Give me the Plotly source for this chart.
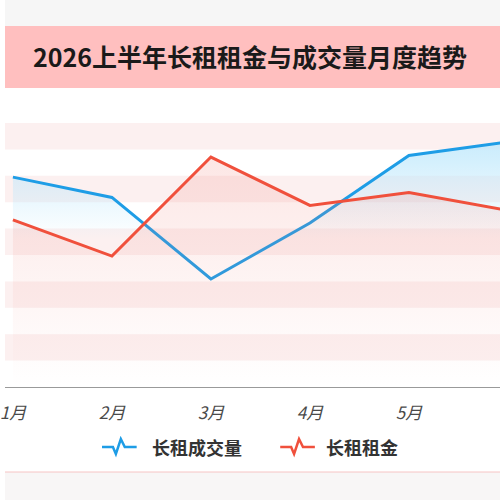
import plotly.graph_objects as go

months = ['1月', '2月', '3月', '4月', '5月', '6月']
volume = [7.95, 7.18, 4.09, 6.21, 8.77, 9.28]   # 长租成交量 (index)
rent = [6.33, 4.96, 8.71, 6.88, 7.37, 6.69]     # 长租租金 (index)
series_names = ['长租成交量', '长租租金']
title_text = '2026上半年长租租金与成交量月度趋势'

BLUE = '#1E9DE6'
RED = '#F0503C'
FONT = 'Noto Sans CJK SC'

fig = go.Figure()
fig.add_trace(go.Scatter(
    x=months, y=volume, mode='lines', name=series_names[0],
    line=dict(color=BLUE, width=3),
    fill='tozeroy',
    fillgradient=dict(type='vertical', start=5.6, stop=9.4,
                      colorscale=[[0, 'rgba(190,232,252,0)'], [1, 'rgba(190,232,252,0.85)']]),
    showlegend=False,
))
fig.add_trace(go.Scatter(
    x=months, y=rent, mode='lines', name=series_names[1],
    line=dict(color=RED, width=3),
    fill='tozeroy',
    fillgradient=dict(type='vertical', start=0.0, stop=8.8,
                      colorscale=[[0, 'rgba(240,120,110,0)'], [1, 'rgba(240,120,110,0.18)']]),
    showlegend=False,
))

H_PLOT = 264.0
def py(pix):
    return (387 - pix) / H_PLOT

shapes = []
# horizontal bands
for k in range(1, 10, 2):
    shapes.append(dict(type='rect', xref='paper', yref='y', x0=0, x1=1, y0=k, y1=k + 1,
                       fillcolor='rgba(250,225,225,0.5)', line=dict(width=0), layer='below'))
# top gray strip
shapes.append(dict(type='rect', xref='paper', yref='paper', x0=0, x1=1, y0=py(26), y1=py(0),
                   fillcolor='#f6f6f6', line=dict(width=0), layer='below'))
# title banner
shapes.append(dict(type='rect', xref='paper', yref='paper', x0=0, x1=1, y0=py(88), y1=py(26),
                   fillcolor='#FFBFBF', line=dict(width=0), layer='below'))
# bottom card edge
shapes.append(dict(type='rect', xref='paper', yref='paper', x0=0, x1=1, y0=py(500), y1=py(472),
                   fillcolor='#f8f6f6', line=dict(width=0), layer='below'))
shapes.append(dict(type='line', xref='paper', yref='paper', x0=0, x1=1, y0=py(472), y1=py(472),
                   line=dict(color='#f6c4c4', width=1)))

# legend zigzag icons
def zig(x0, color):
    pts = [(x0, 447), (x0 + 11, 447), (x0 + 14, 454), (x0 + 19, 439), (x0 + 23, 447), (x0 + 35, 447)]
    path = 'M ' + ' L '.join(f'{px / 500:.4f},{py(pp):.4f}' for px, pp in pts)
    return dict(type='path', xref='paper', yref='paper', path=path,
                line=dict(color=color, width=2.5))
shapes.append(zig(98, BLUE))
shapes.append(zig(278, RED))

annotations = [
    dict(text=series_names[0], xref='paper', yref='paper', x=146 / 500, y=py(447),
         xanchor='left', yanchor='middle', showarrow=False,
         font=dict(family=FONT, size=18, color='#333333', weight='bold')),
    dict(text=series_names[1], xref='paper', yref='paper', x=322 / 500, y=py(447),
         xanchor='left', yanchor='middle', showarrow=False,
         font=dict(family=FONT, size=18, color='#333333', weight='bold')),
]

fig.update_layout(
    width=500, height=500,
    margin=dict(l=0, r=0, t=123, b=113),
    paper_bgcolor='white', plot_bgcolor='rgba(0,0,0,0)',
    title=dict(text=title_text, x=0.5, xanchor='center', y=1 - 58 / 500, yanchor='middle',
               font=dict(family=FONT, size=25, color='#1a1a1a', weight='bold')),
    xaxis=dict(range=[-0.08, 4.92], showgrid=False, zeroline=False,
               showline=True, linecolor='#9a9a9a', linewidth=1,
               ticks='outside', ticklen=11, tickcolor='rgba(0,0,0,0)',
               tickfont=dict(family=FONT, size=17, color='#4a4a4a', style='italic')),
    yaxis=dict(range=[0, 10], showgrid=False, zeroline=False, showticklabels=False,
               showline=False, fixedrange=True),
    shapes=shapes,
    annotations=annotations,
    showlegend=False,
)

fig.write_html('out.html')
